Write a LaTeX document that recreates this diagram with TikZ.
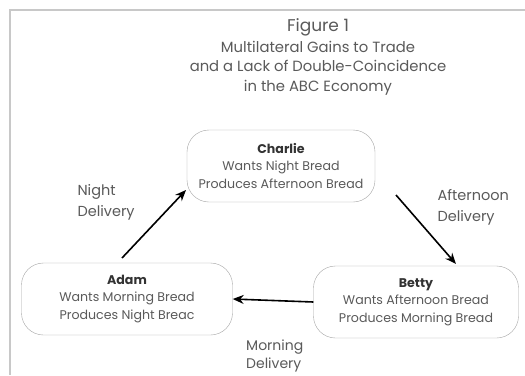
\documentclass[tikz,border=0pt]{standalone}
\usepackage{fontspec}
\setmainfont{Poppins}
\usetikzlibrary{arrows.meta}
\definecolor{txtgray}{HTML}{5A5A5A}
\definecolor{framegray}{HTML}{C8C8C8}
\tikzset{
	agent/.style={draw=gray!70,rounded corners=22pt,minimum height=72pt,align=center,
		text=txtgray,font=\fontsize{12.6}{17.5}\selectfont,inner sep=1pt},
	delivery/.style={-{Stealth[length=11pt,width=9pt]},line width=1.6pt},
	dlabel/.style={align=left,text=txtgray,font=\fontsize{14.5}{21}\selectfont,anchor=west}
}
\begin{document}
\begin{tikzpicture}[x=1pt,y=-1pt]
			\useasboundingbox[fill=white] (0,0) rectangle (525,375);
			\draw[framegray,line width=1.5pt] (525,10) -- (10,10) -- (10,375);
			\node[align=center,text=txtgray,font=\fontsize{14.8}{19.5}\selectfont] (title) at (318,57)
				{{\fontsize{17}{19.5}\selectfont Figure 1}\\[1pt]Multilateral Gains to Trade\\and a Lack of Double-Coincidence\\in the ABC Economy};
			\node[agent,minimum width=188pt] (charlie) at (281,166)
				{{\bfseries\color{black!80}Charlie}\\Wants Night Bread\\Produces Afternoon Bread};
			\node[agent,minimum width=211pt] (adam) at (127,299)
				{{\bfseries\color{black!80}Adam}\\Wants Morning Bread\\Produces Night Breac};
			\node[agent,minimum width=205pt] (betty) at (416,302)
				{{\bfseries\color{black!80}Betty}\\Wants Afternoon Bread\\Produces Morning Bread};
			\coordinate (nstart) at (122,258);
			\coordinate (nend) at (186,190);
			\coordinate (astart) at (396,195);
			\coordinate (aend) at (456,264);
			\draw[delivery] (nstart) -- (nend);
			\draw[delivery] (astart) -- (aend);
			\draw[delivery] (betty.west) -- (adam.east);
			\node[dlabel] (nlabel) at (74,202) {Night\\Delivery};
			\node[dlabel] (alabel) at (434,207) {Afternoon\\Delivery};
			\node[dlabel,font=\fontsize{14}{18}\selectfont,inner sep=1pt] (mlabel) at (245,356) {Morning\\Delivery};
		\end{tikzpicture}
\end{document}
